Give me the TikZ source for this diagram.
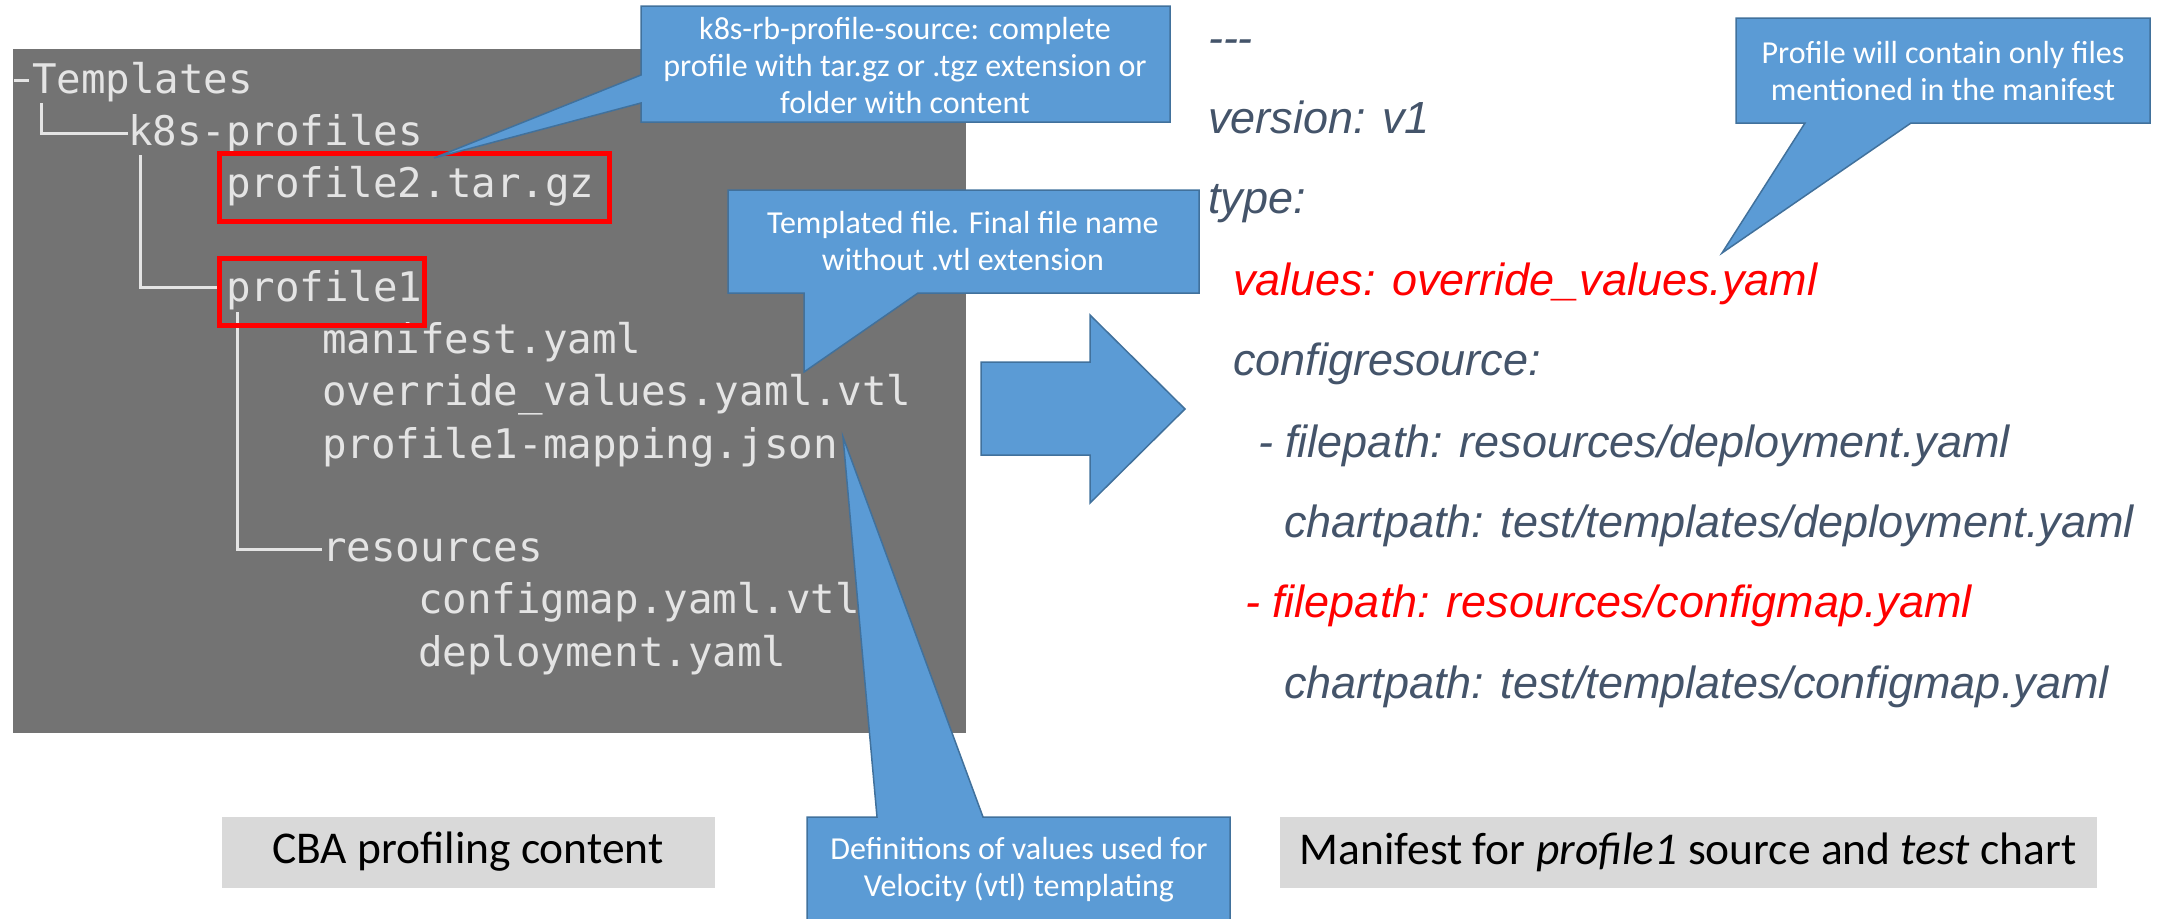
\documentclass[tikz,border=0pt]{standalone}
\usepackage{fontspec}
\setmainfont{Carlito}
\newfontfamily\treefont{DejaVu Sans Mono}
\newfontfamily\yamlfont{Liberation Sans}
\usepackage{tikz}
\usetikzlibrary{arrows}
\definecolor{panelgray}{RGB}{115,115,115}
\definecolor{treetext}{RGB}{228,228,228}
\definecolor{noteblue}{RGB}{91,155,213}
\definecolor{noteedge}{RGB}{65,113,156}
\definecolor{yamlslate}{RGB}{68,84,106}
\definecolor{labelgray}{RGB}{217,217,217}
\tikzset{%
    inner sep=0pt,%
    outer sep=0pt,%
    tree/.style={anchor=base west,text=treetext,
    font=\treefont\fontsize{40.8}{48}\selectfont},%
    treeline/.style={draw=treetext,line width=3pt},%
    redbox/.style={draw=red,line width=5pt},%
    callout/.style={fill=noteblue,draw=noteedge,line width=1.5pt},%
    notetext/.style={text=white,align=center,
    font=\fontsize{32}{37}\selectfont},%
    yaml/.style={anchor=base west,text=yamlslate,
    font=\yamlfont\itshape\fontsize{45}{54}\selectfont},%
    yamlred/.style={yaml,text=red}%
    }
\tikzstyle{caption} = [fill=labelgray, minimum height=71pt,
  font=\fontsize{45.5}{52}\selectfont, text=black]

\begin{document}
\begin{tikzpicture}[x=1pt,y=-1pt]
    \useasboundingbox (0,0) rectangle (2157,918);
    \clip (0,0) rectangle (2157,918);
    % folder listing
    \fill[panelgray] (13,49) rectangle (966,733);
    \node[tree] (templates) at (32,93) {Templates};
    \node[tree] (k8s) at (128,145) {k8s-profiles};
    \node[tree] (ptwo) at (226,197) {profile2.tar.gz};
    \node[tree] (pone) at (226,301) {profile1};
    \node[tree] (manifest) at (322,353) {manifest.yaml};
    \node[tree] (override) at (322,405) {override\_values.yaml.vtl};
    \node[tree] (mapping) at (322,458) {profile1-mapping.json};
    \node[tree] (resources) at (322,561) {resources};
    \node[tree] (configmap) at (418,613) {configmap.yaml.vtl};
    \node[tree] (deploy) at (418,666) {deployment.yaml};
    \draw[treeline] (14,80) -- (29,80);
    \draw[treeline] (41,103) |- (k8s.west);
    \draw[treeline] (140,155) |- (217,287);
    \draw[treeline] (237,312) |- (resources.west);
    \draw[redbox] (219,153) rectangle (609,221);
    \draw[redbox] (219,258) rectangle (424,325);

    % big arrow
    \filldraw[callout] (981,362) -- (1090,362) -- (1090,315) -- (1185,409)
        -- (1090,503) -- (1090,455) -- (981,455) -- cycle;

    % callouts
    \coordinate (srctip) at (434,158);
    \filldraw[callout] (641,6) -- (1170,6) -- (1170,122) -- (641,122)
        -- (641,103) -- (srctip) -- (641,75) -- cycle;
    \node[notetext] (srcnote) at (905,66) {k8s-rb-profile-source: complete\\
        profile with tar.gz or .tgz extension or\\folder with content};

    \coordinate (tpltip) at (804,372);
    \filldraw[callout] (728,190) -- (1199,190) -- (1199,293) -- (918,293)
        -- (tpltip) -- (804,293) -- (728,293) -- cycle;
    \node[notetext] (tplnote) at (963,241) {Templated file. Final file name\\
        without .vtl extension};

    \coordinate (mantip) at (1722,253);
    \filldraw[callout] (1736,18) -- (2150,18) -- (2150,123) -- (1911,123)
        -- (mantip) -- (1805,123) -- (1736,123) -- cycle;
    \node[notetext] (mannote) at (1943,71) {Profile will contain only files\\
        mentioned in the manifest};

    \coordinate (deftip) at (843,437);
    \filldraw[callout] (807,817) -- (877,817) -- (deftip) -- (983,817)
        -- (1230,817) -- (1230,925) -- (807,925) -- cycle;
    \node[notetext] (defnote) at (1019,870) {Definitions of values used for\\
        Velocity (vtl) templating};

    % manifest content
    \node[yaml] (dashes) at (1208,53) {-{}-{}-};
    \node[yaml] (version) at (1208,133) {version: v1};
    \node[yaml] (type) at (1208,213) {type:};
    \node[yamlred] (values) at (1233,295) {values: override\_values.yaml};
    \node[yaml] (configres) at (1233,375) {configresource:};
    \node[yaml] (fileone) at (1258,457) {- filepath: resources/deployment.yaml};
    \node[yaml] (chartone) at (1284,537) {chartpath: test/templates/deployment.yaml};
    \node[yamlred] (filetwo) at (1245,617) {- filepath: resources/configmap.yaml};
    \node[yaml] (charttwo) at (1284,698) {chartpath: test/templates/configmap.yaml};

    % captions
    \node[caption, minimum width=493pt] (cbalabel) at (468,852)
        {CBA profiling content};
    \node[caption, minimum width=817pt] (manlabel) at (1688,852)
        {Manifest for \textit{profile1} source and \textit{test} chart};
\end{tikzpicture}
\end{document}
